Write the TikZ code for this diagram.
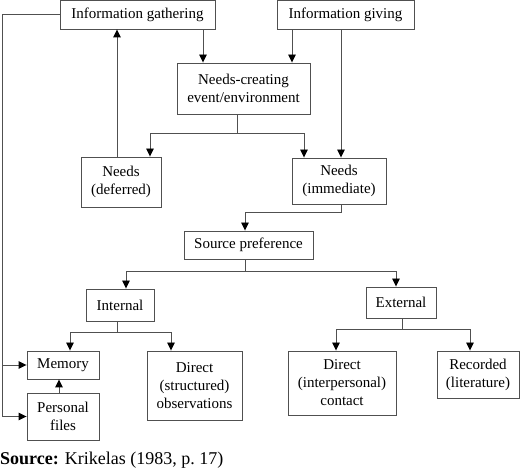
\documentclass[tikz,border=0pt]{standalone}
\usepackage{fontspec}
\setmainfont{Liberation Serif}
\usetikzlibrary{arrows.meta}
\definecolor{linegray}{HTML}{505050}
\tikzset{
  box/.style={draw=linegray, line width=0.9pt, inner sep=0pt, align=center,
    font=\fontsize{15}{18}\selectfont, text=black},
  conn/.style={draw=linegray, line width=0.9pt},
  arr/.style={conn, -{Triangle[length=8pt,width=7.5pt,fill=black,color=black]}},
}
\begin{document}
\begin{tikzpicture}[x=1pt,y=-1pt]
\useasboundingbox (0,0) rectangle (520,473);
\node[box, minimum width=155, minimum height=29] (ig) at (137.5,14.5) {Information gathering};
\node[box, minimum width=137, minimum height=29] (igv) at (345.5,14.5) {Information giving};
\node[box, minimum width=133, minimum height=51] (nce) at (243.5,88.5) {Needs-creating\\event/environment};
\node[box, minimum width=80, minimum height=50] (nd) at (121,182) {Needs\\(deferred)};
\node[box, minimum width=94, minimum height=46] (ni) at (339,181) {Needs\\(immediate)};
\node[box, minimum width=129, minimum height=28] (sp) at (248.5,245) {Source preference};
\node[box, minimum width=68, minimum height=32] (int) at (120,305) {Internal};
\node[box, minimum width=70, minimum height=31] (ext) at (401,302.5) {External};
\node[box, minimum width=72, minimum height=28] (mem) at (63,365) {Memory};
\node[box, minimum width=72, minimum height=47] (pf) at (63,416.5) {Personal\\files};
\node[box, minimum width=95, minimum height=69] (dso) at (194.5,385.5) {Direct\\(structured)\\observations};
\node[box, minimum width=108, minimum height=64] (dic) at (342,383) {Direct\\(interpersonal)\\contact};
\node[box, minimum width=82, minimum height=47] (rec) at (478,374.5) {Recorded\\(literature)};
\node[anchor=base west, inner sep=0pt, font=\fontsize{18}{21}\selectfont] (src) at (0,464) {\textbf{Source:} Krikelas (1983, p.~17)};

% top arrows
\draw[arr] (ig.south -| 203,0) -- (nce.north -| 203,0);
\draw[arr] (igv.south -| 292,0) -- (nce.north -| 292,0);
\draw[arr] (igv.south -| 341,0) -- (ni.north -| 341,0);
\draw[arr] (nd.north -| 117,0) -- (ig.south -| 117,0);
% needs-creating split
\coordinate (c1) at (237,133);
\draw[conn] (nce.south -| c1) -- (c1);
\draw[arr] (c1) -| (nd.north -| 150,0);
\draw[arr] (c1) -| (ni.north -| 304,0);
% immediate to source preference
\coordinate (c2) at (341,212);
\draw[arr] (ni.south -| c2) -- (c2) -| (sp.north -| 245,0);
% source preference split
\coordinate (c3) at (245,271);
\draw[conn] (sp.south -| c3) -- (c3);
\draw[arr] (c3) -| (int.north -| 126,0);
\draw[arr] (c3) -| (ext.north -| 396,0);
% internal split
\coordinate (c4) at (117,332);
\draw[conn] (int.south -| c4) -- (c4);
\draw[arr] (c4) -| (mem.north -| 70,0);
\draw[arr] (c4) -| (dso.north -| 171,0);
% external split
\coordinate (c5) at (402,329);
\draw[conn] (ext.south -| c5) -- (c5);
\draw[arr] (c5) -| (dic.north -| 336,0);
\draw[arr] (c5) -| (rec.north -| 470,0);
% personal files to memory
\draw[arr] (pf.north -| 59,0) -- (mem.south -| 59,0);
% left feedback line
\coordinate (c6) at (2,14.5);
\coordinate (c7) at (2,365);
\coordinate (c8) at (2,416.5);
\draw[conn] (ig.west) -- (c6) -- (c8);
\draw[arr] (c7) -- (mem.west);
\draw[arr] (c8) -- (pf.west);
\end{tikzpicture}
\end{document}
